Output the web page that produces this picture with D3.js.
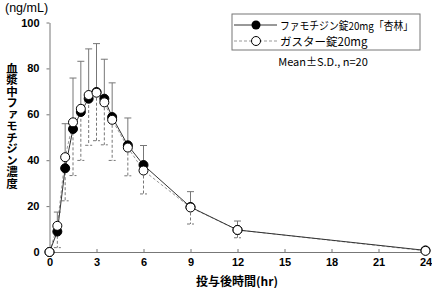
<!DOCTYPE html>
<html>
<head>
<meta charset="utf-8">
<script src="https://cdn.jsdelivr.net/npm/d3@7"></script>
<style>
  body { margin: 0; background: #fff; }
  text { font-family: "Liberation Sans", "Noto Sans CJK JP", sans-serif; fill: #000; }
  .jp { font-family: "Noto Sans CJK JP", sans-serif; }
</style>
</head>
<body>
<svg id="chart" width="432" height="288"></svg>
<script>
// sampling times (hr)
var times = [0, 0.5, 1, 1.5, 2, 2.5, 3, 3.5, 4, 5, 6, 9, 12, 24];
// ファモチジン錠20mg「杏林」 mean and S.D.
var famoMean = [0, 8.9, 36.5, 53.6, 61.0, 66.8, 69.7, 66.8, 58.8, 46.5, 37.9, 19.6, 9.6, 0.7];
var famoSD   = [0, 8.5, 19.4, 22.2, 22.1, 21.7, 21.1, 17.2, 14.9, 11.9, 8.5, 6.7, 3.9, 0];
// ガスター錠20mg mean and S.D.
var gasMean  = [0, 11.4, 41.3, 56.5, 62.4, 68.4, 69.4, 65.2, 57.6, 45.5, 35.5, 19.4, 9.6, 0.5];
var gasSD    = [0, 9.5, 19.0, 23.2, 22.5, 21.9, 20.9, 18.5, 17.7, 12.3, 10.2, 7.2, 3.4, 0];

var xTicks = [0, 3, 6, 9, 12, 15, 18, 21, 24];
var yTicks = [0, 20, 40, 60, 80, 100];
var seriesNames = ["ファモチジン錠20mg「杏林」", "ガスター錠20mg"];

var svg = d3.select("#chart");
var x = d3.scaleLinear().domain([0, 24]).range([49.5, 425.5]);
var y = d3.scaleLinear().domain([0, 100]).range([252, 22.5]);

// axes
var xAxis = svg.append("g")
    .attr("transform", "translate(0," + y(0) + ")")
    .call(d3.axisBottom(x).tickValues(xTicks).tickSize(-3).tickSizeOuter(0).tickPadding(6));
var yAxis = svg.append("g")
    .attr("transform", "translate(" + x(0) + ",0)")
    .call(d3.axisLeft(y).tickValues(yTicks).tickSize(3).tickSizeOuter(0).tickPadding(5));
[xAxis, yAxis].forEach(function(a) {
  a.select(".domain").attr("stroke", "#777");
  a.selectAll(".tick line").attr("stroke", "#777");
  a.selectAll(".tick text").attr("font-size", 11).attr("font-weight", "bold")
    .attr("font-family", "Liberation Sans, sans-serif").attr("fill", "#000");
});
yAxis.selectAll(".tick text").attr("dx", "-2");

var famo = times.map(function(t, i) { return {t: t, v: famoMean[i], sd: famoSD[i]}; });
var gas = times.map(function(t, i) { return {t: t, v: gasMean[i], sd: gasSD[i]}; });

// error bars: + S.D. for famotidine (solid), - S.D. for gaster (dashed)
function errBars(data, sign, dash) {
  var g = svg.append("g").attr("stroke", "#777").attr("stroke-width", 1)
    .attr("stroke-dasharray", dash);
  var d = data.filter(function(p) { return p.sd > 0; });
  g.selectAll("line.v").data(d).enter().append("line")
    .attr("x1", function(p) { return x(p.t); })
    .attr("x2", function(p) { return x(p.t); })
    .attr("y1", function(p) { return y(p.v); })
    .attr("y2", function(p) { return y(p.v + sign * p.sd); });
  g.selectAll("line.c").data(d).enter().append("line")
    .attr("stroke-dasharray", null)
    .attr("x1", function(p) { return x(p.t) - 3.5; })
    .attr("x2", function(p) { return x(p.t) + 3.5; })
    .attr("y1", function(p) { return y(p.v + sign * p.sd); })
    .attr("y2", function(p) { return y(p.v + sign * p.sd); });
}
errBars(famo, 1, null);
errBars(gas, -1, "3,2");

var line = d3.line().x(function(p) { return x(p.t); }).y(function(p) { return y(p.v); });
svg.append("path").datum(gas).attr("d", line)
  .attr("fill", "none").attr("stroke", "#999").attr("stroke-dasharray", "3,2");
svg.append("path").datum(famo).attr("d", line)
  .attr("fill", "none").attr("stroke", "#333");

svg.append("g").selectAll("circle").data(famo).enter().append("circle")
  .attr("cx", function(p) { return x(p.t); })
  .attr("cy", function(p) { return y(p.v); })
  .attr("r", 4.5).attr("fill", "#000").attr("stroke", "#000");
svg.append("g").selectAll("circle").data(gas).enter().append("circle")
  .attr("cx", function(p) { return x(p.t); })
  .attr("cy", function(p) { return y(p.v); })
  .attr("r", 4.5).attr("fill", "#fff").attr("stroke", "#000");

// legend
var lg = svg.append("g");
lg.append("rect").attr("x", 232).attr("y", 14).attr("width", 188).attr("height", 36)
  .attr("fill", "#fff").attr("stroke", "#777");
lg.append("line").attr("x1", 234).attr("x2", 277).attr("y1", 25).attr("y2", 25)
  .attr("stroke", "#333");
lg.append("circle").attr("cx", 256).attr("cy", 25).attr("r", 4.5).attr("fill", "#000");
lg.append("line").attr("x1", 234).attr("x2", 277).attr("y1", 41).attr("y2", 41)
  .attr("stroke", "#999").attr("stroke-dasharray", "3,2");
lg.append("circle").attr("cx", 256).attr("cy", 41).attr("r", 4.5)
  .attr("fill", "#fff").attr("stroke", "#000");
seriesNames.forEach(function(n, i) {
  var t = lg.append("text").attr("class", "jp").attr("x", 280).attr("y", 29.5 + i * 16)
    .attr("font-size", i === 0 ? 11 : 11.5).text(n);
  if (i === 0) t.attr("textLength", 133).attr("lengthAdjust", "spacingAndGlyphs");
});
svg.append("text").attr("x", 323).attr("y", 66).attr("text-anchor", "middle")
  .attr("font-size", 11).attr("class", "jp").text("Mean±S.D., n=20");

// titles
svg.append("text").attr("x", 5).attr("y", 12).attr("font-size", 12.5).text("(ng/mL)");
svg.append("text").attr("class", "jp").attr("x", 237).attr("y", 286)
  .attr("text-anchor", "middle").attr("font-size", 12).attr("font-weight", "bold")
  .text("投与後時間(hr)");
svg.append("text").attr("class", "jp")
  .attr("transform", "translate(12,126)")
  .attr("text-anchor", "middle")
  .style("writing-mode", "vertical-rl")
  .style("text-orientation", "upright")
  .attr("font-size", 11.5).attr("font-weight", "bold")
  .text("血漿中ファモチジン濃度");
</script>
</body>
</html>
